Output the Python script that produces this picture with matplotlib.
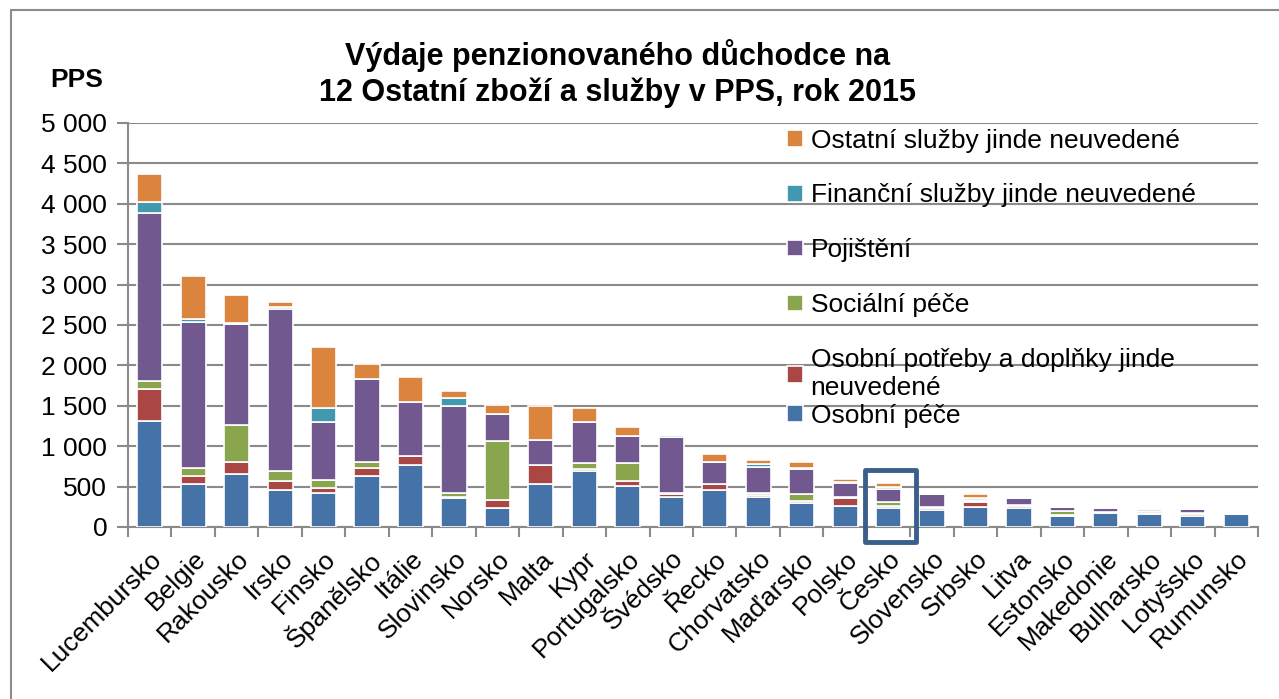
import numpy as np
import matplotlib.pyplot as plt
from matplotlib.patches import Rectangle

plt.rcParams['font.family'] = ['Liberation Sans', 'DejaVu Sans']

countries = ['Lucembursko', 'Belgie', 'Rakousko', 'Irsko', 'Finsko', 'Španělsko', 'Itálie',
             'Slovinsko', 'Norsko', 'Malta', 'Kypr', 'Portugalsko', 'Švédsko', 'Řecko',
             'Chorvatsko', 'Maďarsko', 'Polsko', 'Česko', 'Slovensko', 'Srbsko', 'Litva',
             'Estonsko', 'Makedonie', 'Bulharsko', 'Lotyšsko', 'Rumunsko']

osobni_pece = [1313, 535, 650, 461, 420, 634, 770, 355, 231, 533, 694, 512, 376, 458,
               371, 294, 258, 230, 211, 252, 231, 133, 178, 157, 136, 157]
osobni_potreby = [391, 99, 157, 111, 58, 95, 103, 15, 104, 235, 29, 54, 37, 75,
                  25, 30, 105, 35, 20, 60, 35, 15, 8, 20, 30, 0]
socialni_pece = [103, 95, 457, 124, 98, 74, 0, 50, 731, 0, 66, 223, 10, 0,
                 25, 83, 8, 45, 20, 8, 8, 45, 0, 15, 10, 0]
pojisteni = [2079, 1803, 1247, 2005, 721, 1025, 679, 1078, 334, 314, 512, 334, 686, 276,
             322, 314, 177, 155, 160, 15, 90, 55, 46, 25, 44, 0]
financni_sluzby = [132, 37, 10, 20, 173, 0, 0, 95, 0, 0, 0, 0, 33, 0,
                   35, 10, 15, 35, 0, 30, 0, 0, 0, 15, 0, 0]
ostatni_sluzby = [346, 543, 350, 60, 761, 193, 309, 95, 116, 413, 169, 112, 10, 95,
                  55, 79, 37, 40, 0, 45, 0, 0, 0, 20, 0, 0]

series = [
    ('Osobní péče', osobni_pece, '#4572A7'),
    ('Osobní potřeby a doplňky jinde\nneuvedené', osobni_potreby, '#AA4643'),
    ('Sociální péče', socialni_pece, '#89A54E'),
    ('Pojištění', pojisteni, '#71588F'),
    ('Finanční služby jinde neuvedené', financni_sluzby, '#4198AF'),
    ('Ostatní služby jinde neuvedené', ostatni_sluzby, '#DB843D'),
]

fig = plt.figure(figsize=(12.79, 6.99), dpi=100)
ax = fig.add_axes([128 / 1279, 1 - 527 / 699, (1258 - 128) / 1279, (527 - 123) / 699])

x = np.arange(len(countries))
bottom = np.zeros(len(countries))
handles = []
for name, vals, col in series:
    vals = np.array(vals, dtype=float)
    b = ax.bar(x, vals, 0.58, bottom=bottom, color=col, edgecolor='white', linewidth=1.2,
               label=name, zorder=3)
    handles.append(b)
    bottom += vals

ax.set_xlim(-0.5, len(countries) - 0.5)
ax.set_ylim(0, 5000)
ax.set_yticks(np.arange(0, 5001, 500))
ax.set_yticklabels([f'{v:,}'.replace(',', ' ') for v in range(0, 5001, 500)], fontsize=19)
ax.yaxis.grid(True, color='#8a8a8a', linewidth=1.5, zorder=0)
ax.set_axisbelow(True)

ax.set_xticks(x)
ax.set_xticklabels(countries, rotation=45, ha='right', rotation_mode='anchor', fontsize=19)
ax.set_xticks(np.arange(-0.5, len(countries)), minor=True)
ax.tick_params(axis='x', which='major', length=0, pad=14)
ax.tick_params(axis='x', which='minor', length=7, color='#8a8a8a', width=1.5)
ax.tick_params(axis='y', length=8, color='#8a8a8a', width=1.5, pad=7)

for s in ['top', 'right']:
    ax.spines[s].set_visible(False)
for s in ['left', 'bottom']:
    ax.spines[s].set_color('#8a8a8a')
    ax.spines[s].set_linewidth(1.5)

# legend, reversed order; last item as its own legend so it sits close like in Excel
leg_kw = dict(frameon=False, fontsize=19, handlelength=0.6, handleheight=0.6,
              handletextpad=0.3, labelspacing=1.17)
leg1 = ax.legend(handles[:0:-1], [s[0] for s in series[:0:-1]], loc='upper left',
                 bbox_to_anchor=(0.562, 1.045), **leg_kw)
ax.add_artist(leg1)
ax.legend(handles[:1], [series[0][0]], loc='upper left',
          bbox_to_anchor=(0.562, 0.364), **leg_kw)

fig.text(0.483, 0.895, 'Výdaje penzionovaného důchodce na\n12 Ostatní zboží a služby v PPS, rok 2015',
         ha='center', va='center', fontsize=22, fontweight='bold', linespacing=1.22)
fig.text(103 / 1279, 1 - 80 / 699, 'PPS', ha='right', va='center', fontsize=19, fontweight='bold')

# highlight box around Česko
ci = countries.index('Česko')
ax.add_patch(Rectangle((ci - 0.54, -185), 1.17, 890, fill=False, edgecolor='#3A5F8B',
                       linewidth=3.5, joinstyle='round', clip_on=False, zorder=5))

fig.patches.append(Rectangle((11 / 1279, -0.1), 1.2, 1 - 10 / 699 + 0.1, transform=fig.transFigure,
                             fill=False, edgecolor='#8c8c8c', linewidth=1.5))

fig.savefig('out.png', dpi=100)
